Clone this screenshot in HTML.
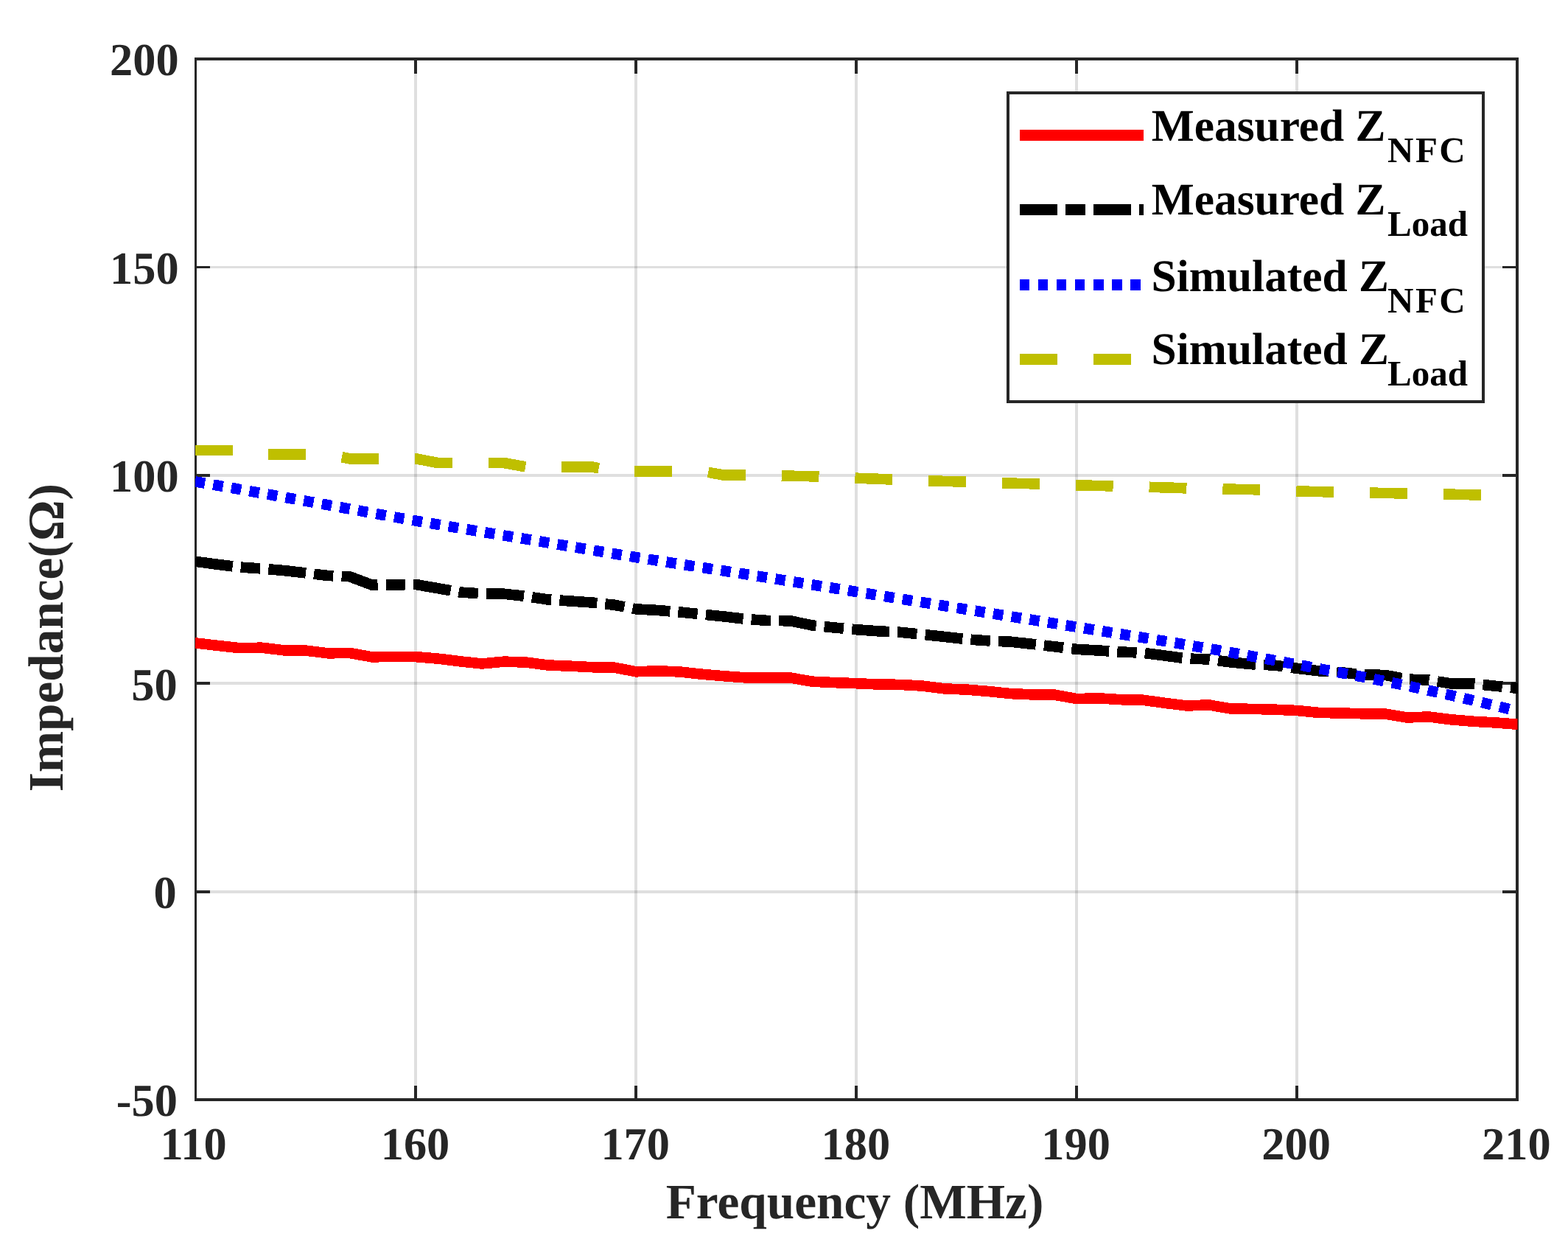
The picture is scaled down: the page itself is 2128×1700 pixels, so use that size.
<!DOCTYPE html>
<html lang="en"><head><meta charset="utf-8"><title>Impedance vs Frequency</title>
<style>
html,body{margin:0;padding:0;background:#fff;}
body{width:2128px;height:1700px;overflow:hidden;}
svg{display:block;}
text{font-family:"Liberation Serif",serif;font-weight:bold;text-rendering:geometricPrecision;}
.tk{font-size:62.4px;fill:#262626;}
.lb{font-size:67.3px;fill:#262626;}
.lg{font-size:61.4px;fill:#000;}
.sb{font-size:49.0px;fill:#000;}
.gr{fill:#262626;fill-opacity:0.15;}
.ax{fill:#262626;}
.dl{fill:none;stroke-width:14.6;stroke-linejoin:miter;stroke-linecap:butt;shape-rendering:crispEdges;}
</style></head><body>
<svg width="2128" height="1700" viewBox="0 0 2128 1700">
<rect x="0" y="0" width="2128" height="1700" fill="#fff"/>
<defs><clipPath id="c"><rect x="264.9" y="80" width="1794.6" height="1412"/></clipPath></defs>
<g class="gr">
<rect x="562" y="82" width="4" height="1408"/>
<rect x="861" y="82" width="4" height="1408"/>
<rect x="1160" y="82" width="4" height="1408"/>
<rect x="1459" y="82" width="4" height="1408"/>
<rect x="1758" y="82" width="4" height="1408"/>
<rect x="267" y="361" width="1790" height="3"/>
<rect x="267" y="643" width="1790" height="4"/>
<rect x="267" y="925" width="1790" height="4"/>
<rect x="267" y="1208" width="1790" height="4"/>
</g>
<g class="ax">
<rect x="264" y="78" width="3" height="1416"/>
<rect x="2057" y="78" width="4" height="1416"/>
<rect x="264" y="78" width="1797" height="4"/>
<rect x="264" y="1490" width="1797" height="4"/>
<rect x="562" y="1473" width="4" height="18"/>
<rect x="562" y="81" width="4" height="19"/>
<rect x="861" y="1473" width="4" height="18"/>
<rect x="861" y="81" width="4" height="19"/>
<rect x="1160" y="1473" width="4" height="18"/>
<rect x="1160" y="81" width="4" height="19"/>
<rect x="1459" y="1473" width="4" height="18"/>
<rect x="1459" y="81" width="4" height="19"/>
<rect x="1758" y="1473" width="4" height="18"/>
<rect x="1758" y="81" width="4" height="19"/>
<rect x="266" y="361" width="19" height="3"/>
<rect x="2039" y="361" width="19" height="3"/>
<rect x="266" y="643" width="19" height="4"/>
<rect x="2039" y="643" width="19" height="4"/>
<rect x="266" y="925" width="19" height="4"/>
<rect x="2039" y="925" width="19" height="4"/>
<rect x="266" y="1208" width="19" height="4"/>
<rect x="2039" y="1208" width="19" height="4"/>
</g>
<g clip-path="url(#c)">
<path class="dl" stroke="#ff0000" d="M264.5 872.3 L265.5 872.4 L295.4 875.9 L325.3 879.2 L355.2 878.7 L385.1 882.3 L415.0 882.6 L444.9 886.3 L474.7 886.0 L504.6 891.3 L534.5 891.0 L564.4 891.1 L594.3 893.6 L624.2 897.3 L654.1 900.5 L684.0 897.6 L713.9 898.6 L743.8 902.5 L773.7 903.7 L803.5 905.2 L833.4 905.6 L863.3 911.3 L893.2 910.3 L923.1 911.5 L953.0 914.8 L982.9 917.3 L1012.8 919.5 L1042.7 919.5 L1072.6 919.5 L1102.5 924.7 L1132.4 926.1 L1162.2 927.2 L1192.1 928.5 L1222.0 928.9 L1251.9 930.6 L1281.8 934.4 L1311.7 935.6 L1341.6 938.0 L1371.5 941.1 L1401.4 942.4 L1431.3 942.7 L1461.2 948.1 L1491.1 947.3 L1521.0 949.2 L1550.8 949.7 L1580.7 953.8 L1610.6 957.5 L1640.5 956.4 L1670.4 961.5 L1700.3 961.9 L1730.2 962.7 L1760.1 964.0 L1790.0 966.9 L1819.9 967.5 L1849.8 968.3 L1879.7 968.5 L1909.5 973.5 L1939.4 972.5 L1969.3 976.3 L1999.2 978.8 L2029.1 980.4 L2059.0 982.7 L2060.5 982.8"/>
<path class="dl" stroke="#000000" stroke-dasharray="51 11.1 26.4 11.3" stroke-dashoffset="-0.6" d="M264.5 761.7 L265.5 761.8 L295.4 765.8 L325.3 769.5 L355.2 771.5 L385.1 774.0 L415.0 777.4 L444.9 781.0 L474.7 782.3 L504.6 793.6 L534.5 793.4 L564.4 793.0 L594.3 798.2 L624.2 803.5 L654.1 805.5 L684.0 805.7 L713.9 809.0 L743.8 813.5 L773.7 815.5 L803.5 817.5 L833.4 820.7 L863.3 826.4 L893.2 828.0 L923.1 830.5 L953.0 833.5 L982.9 836.5 L1012.8 840.0 L1042.7 842.0 L1072.6 842.3 L1102.5 848.5 L1132.4 851.5 L1162.2 854.2 L1192.1 856.3 L1222.0 857.8 L1251.9 860.8 L1281.8 863.9 L1311.7 867.3 L1341.6 869.4 L1371.5 870.7 L1401.4 873.9 L1431.3 877.3 L1461.2 880.9 L1491.1 882.5 L1521.0 884.5 L1550.8 885.7 L1580.7 889.5 L1610.6 893.5 L1640.5 894.5 L1670.4 898.5 L1700.3 901.3 L1730.2 902.6 L1760.1 906.8 L1790.0 910.3 L1819.9 912.2 L1849.8 915.5 L1879.7 915.9 L1909.5 921.5 L1939.4 922.6 L1969.3 927.5 L1999.2 927.6 L2029.1 930.7 L2059.0 933.8 L2060.5 934.0"/>
<path class="dl" stroke="#0000ff" stroke-dasharray="13.6 11.355" stroke-dashoffset="-0.2" d="M264.5 653.3 L265.5 653.5 L295.4 658.7 L325.3 663.9 L355.2 669.2 L385.1 674.5 L415.0 679.8 L444.9 685.1 L474.7 690.6 L504.6 696.0 L534.5 701.4 L564.4 706.6 L594.3 711.7 L624.2 716.7 L654.1 721.6 L684.0 726.5 L713.9 731.4 L743.8 736.4 L773.7 741.4 L803.5 746.3 L833.4 751.3 L863.3 756.1 L893.2 760.8 L923.1 765.4 L953.0 770.0 L982.9 774.6 L1012.8 779.2 L1042.7 783.9 L1072.6 788.7 L1102.5 793.4 L1132.4 798.2 L1162.2 802.9 L1192.1 807.7 L1222.0 812.5 L1251.9 817.2 L1281.8 822.0 L1311.7 826.8 L1341.6 831.6 L1371.5 836.4 L1401.4 841.1 L1431.3 845.9 L1461.2 850.7 L1491.1 855.5 L1521.0 860.3 L1550.8 865.1 L1580.7 869.9 L1610.6 874.9 L1640.5 880.0 L1670.4 885.2 L1700.3 890.6 L1730.2 896.1 L1760.1 901.6 L1790.0 907.2 L1819.9 912.8 L1849.8 918.5 L1879.7 924.3 L1909.5 930.4 L1939.4 936.8 L1969.3 943.4 L1999.2 950.3 L2029.1 957.4 L2058.0 964.5"/>
<path class="dl" stroke="#bfbf00" stroke-dasharray="50.8 49.05" stroke-dashoffset="-0.5" d="M264.5 610.9 L265.5 610.9 L295.4 610.9 L325.3 610.9 L355.2 616.5 L385.1 616.5 L415.0 616.5 L444.9 616.5 L474.7 622.3 L504.6 622.3 L534.5 622.3 L564.4 622.3 L594.3 628.0 L624.2 628.0 L654.1 628.0 L684.0 628.0 L713.9 633.5 L743.8 633.5 L773.7 633.5 L803.5 633.5 L833.4 639.4 L863.3 639.4 L893.2 639.4 L923.1 639.4 L953.0 639.4 L982.9 644.7 L1012.8 644.7 L1042.7 645.2 L1072.6 645.7 L1102.5 646.3 L1132.4 647.4 L1162.2 648.7 L1192.1 649.8 L1222.0 651.0 L1251.9 652.0 L1281.8 652.9 L1311.7 653.7 L1341.6 654.8 L1371.5 655.6 L1401.4 656.3 L1431.3 657.3 L1461.2 658.4 L1491.1 659.0 L1521.0 659.7 L1550.8 660.5 L1580.7 661.4 L1610.6 662.4 L1640.5 663.1 L1670.4 663.7 L1700.3 664.2 L1730.2 665.2 L1760.1 666.4 L1790.0 667.1 L1819.9 667.7 L1849.8 668.4 L1879.7 669.0 L1909.5 669.5 L1939.4 670.1 L1969.3 670.7 L1999.2 671.3 L2029.1 671.9 L2058.0 672.5"/>
</g>
<g class="tk" text-anchor="end">
<text x="242.7" y="102.4">200</text>
<text x="242.7" y="384.8">150</text>
<text x="242.7" y="667.2">100</text>
<text x="240.7" y="949.6">50</text>
<text x="239.6" y="1232">0</text>
<text x="240.9" y="1514.4">-50</text>
</g>
<g class="tk" text-anchor="middle">
<text x="262.7" y="1572.6">110</text>
<text x="563.5" y="1572.6">160</text>
<text x="862.2" y="1572.6">170</text>
<text x="1161.3" y="1572.6">180</text>
<text x="1460.1" y="1572.6">190</text>
<text x="1759.1" y="1572.6">200</text>
<text x="2057.9" y="1572.6">210</text>
</g>
<text class="lb" x="903.65" y="1653">Frequency (MHz)</text>
<text class="lb" transform="translate(85 1074.3) rotate(-90)">Impedance(<tspan font-size="69.5" dy="1">Ω</tspan><tspan dy="-1">)</tspan></text>
<rect x="1368" y="126" width="645" height="419" fill="#fff" stroke="#262626" stroke-width="4"/>
<path d="M1383.8 183.45 H1552.1" fill="none" stroke="#ff0000" stroke-width="15" shape-rendering="crispEdges"/>
<path d="M1383.8 284.45 H1552.1" fill="none" stroke="#000000" stroke-width="15" shape-rendering="crispEdges" stroke-dasharray="51.1 11.1 26.8 11.1"/>
<path d="M1383.8 386.4 H1552.1" fill="none" stroke="#0000ff" stroke-width="15" shape-rendering="crispEdges" stroke-dasharray="13.6 11.43"/>
<path d="M1383.8 487.4 H1552.1" fill="none" stroke="#bfbf00" stroke-width="15" shape-rendering="crispEdges" stroke-dasharray="51.1 49"/>
<text class="lg" x="1562.75" y="190.85">Measured Z<tspan class="sb" x="1883" dy="29" letter-spacing="2.5">NFC</tspan></text>
<text class="lg" x="1562.75" y="290.85">Measured Z<tspan class="sb" x="1883" dy="29" letter-spacing="0">Load</tspan></text>
<text class="lg" x="1562.6" y="394.8">Simulated Z<tspan class="sb" x="1883" dy="29" letter-spacing="2.5">NFC</tspan></text>
<text class="lg" x="1562.6" y="493.8">Simulated Z<tspan class="sb" x="1883" dy="29" letter-spacing="0">Load</tspan></text>
</svg>
</body></html>
